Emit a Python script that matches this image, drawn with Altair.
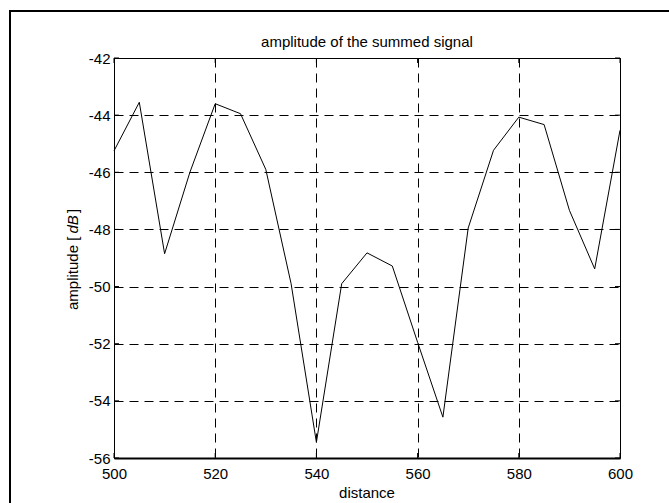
import altair as alt
import pandas as pd

# data
distance = [500, 505, 510, 515, 520, 525, 530, 535, 540, 545, 550,
            555, 560, 565, 570, 575, 580, 585, 590, 595, 600]
amplitude = [-45.25, -43.55, -48.85, -46.0, -43.6, -43.95, -45.9, -49.9,
             -55.45, -49.9, -48.82, -49.28, -51.95, -54.57, -47.95, -45.23,
             -44.07, -44.33, -47.33, -49.38, -44.53]
x_ticks = [500, 520, 540, 560, 580, 600]
y_ticks = [-56, -54, -52, -50, -48, -46, -44, -42]
title_text = "amplitude of the summed signal"
x_title = "distance"
y_title_parts = ["amplitude [", "dB", "]"]

FONT = "Arial, Liberation Sans, sans-serif"
FS = 15
W, H = 506, 400

df = pd.DataFrame({"distance": distance, "amplitude": amplitude})
xt = pd.DataFrame({"t": x_ticks})
yt = pd.DataFrame({"t": y_ticks})
one = pd.DataFrame({"k": [0]})

xscale = alt.Scale(domain=[500, 600], nice=False, zero=False)
yscale = alt.Scale(domain=[-56, -42], nice=False, zero=False)

xaxis = alt.Axis(values=x_ticks, grid=True, gridColor="black", gridDash=[9, 6],
                 gridWidth=1, ticks=False, tickSize=0, labelPadding=8,
                 labelFont=FONT, labelFontSize=FS, labelColor="black",
                 domain=True, domainColor="black", domainWidth=2, title=None,
                 labelFlush=False)
yaxis = alt.Axis(values=y_ticks, grid=True, gridColor="black", gridDash=[9, 6],
                 gridWidth=1, ticks=False, tickSize=0, labelPadding=4,
                 labelFont=FONT, labelFontSize=FS, labelColor="black",
                 domain=False, title=None, labelFlush=False,
                 labelExpr="replace(datum.label, '\u2212', '-')")

line = alt.Chart(df).mark_line(color="black", strokeWidth=1).encode(
    x=alt.X("distance:Q", scale=xscale, axis=xaxis),
    y=alt.Y("amplitude:Q", scale=yscale, axis=yaxis),
)

# inner ticks (MATLAB style) on all four sides
tick_style = dict(color="black", strokeWidth=1)
xb = alt.Chart(xt).mark_rule(**tick_style).encode(
    x=alt.X("t:Q", scale=xscale), y=alt.value(H), y2=alt.value(H - 5))
xtop = alt.Chart(xt).mark_rule(**tick_style).encode(
    x=alt.X("t:Q", scale=xscale), y=alt.value(0), y2=alt.value(5))
yl = alt.Chart(yt).mark_rule(**tick_style).encode(
    y=alt.Y("t:Q", scale=yscale), x=alt.value(0), x2=alt.value(5))
yr = alt.Chart(yt).mark_rule(**tick_style).encode(
    y=alt.Y("t:Q", scale=yscale), x=alt.value(W), x2=alt.value(W - 5))

title = alt.Chart(one).mark_text(font=FONT, fontSize=FS, color="black",
                                 align="center", baseline="alphabetic").encode(
    x=alt.value(W / 2), y=alt.value(-11), text=alt.value(title_text))

xlab = alt.Chart(one).mark_text(font=FONT, fontSize=FS, color="black",
                                align="center", baseline="alphabetic").encode(
    x=alt.value(W / 2), y=alt.value(439.5), text=alt.value(x_title))

ylab1 = alt.Chart(one).mark_text(font=FONT, fontSize=FS, color="black", angle=270,
                                 align="left", baseline="alphabetic").encode(
    x=alt.value(-36), y=alt.value(252), text=alt.value(y_title_parts[0]))
ylab2 = alt.Chart(one).mark_text(font=FONT, fontSize=FS, color="black", angle=270,
                                 fontStyle="italic",
                                 align="left", baseline="alphabetic").encode(
    x=alt.value(-36), y=alt.value(175.5), text=alt.value(y_title_parts[1]))
ylab3 = alt.Chart(one).mark_text(font=FONT, fontSize=FS, color="black", angle=270,
                                 align="left", baseline="alphabetic").encode(
    x=alt.value(-36), y=alt.value(155), text=alt.value(y_title_parts[2]))

# outer figure border (extends past the right and bottom edges of the picture)
border = alt.Chart(one).mark_rect(filled=False, stroke="black", strokeWidth=2,
                                  clip=False).encode(
    x=alt.value(-104), y=alt.value(-47), x2=alt.value(700), y2=alt.value(600))

chart = alt.layer(border, line, xb, xtop, yl, yr, title, xlab,
                  ylab1, ylab2, ylab3).properties(
    width=W, height=H,
    autosize=alt.AutoSizeParams(type="none"),
    padding={"left": 114, "top": 58, "right": 49, "bottom": 45},
    background="white",
).configure_view(stroke="black", strokeWidth=1)

chart.save("out.html", embed_options={"renderer": "svg", "actions": False})
